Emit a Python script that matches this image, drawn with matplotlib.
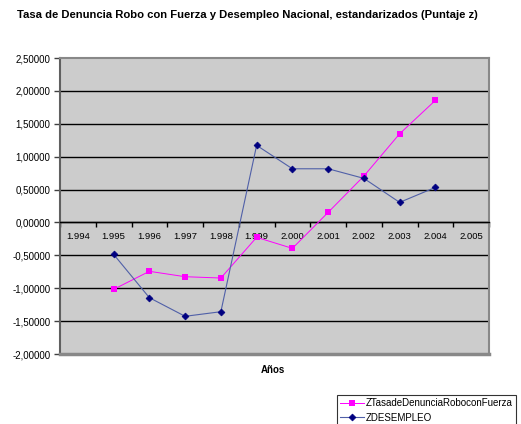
import matplotlib
matplotlib.use("Agg")
import matplotlib.pyplot as plt
from matplotlib.ticker import FixedLocator

plt.rcParams['font.family'] = ['Liberation Sans', 'DejaVu Sans']

years = ['1.994', '1.995', '1.996', '1.997', '1.998', '1.999', '2.000',
         '2.001', '2.002', '2.003', '2.004', '2.005']
data_years = ['1.995', '1.996', '1.997', '1.998', '1.999', '2.000',
              '2.001', '2.002', '2.003', '2.004']
z_robo = [-1.017, -0.743, -0.825, -0.845, -0.226, -0.394, 0.153, 0.705, 1.348, 1.856]
z_desempleo = [-0.485, -1.144, -1.427, -1.357, 1.172, 0.816, 0.816, 0.670, 0.305, 0.533]
y_ticks = [-2.0, -1.5, -1.0, -0.5, 0.0, 0.5, 1.0, 1.5, 2.0, 2.5]

W, H = 521, 424
fig = plt.figure(figsize=(W/100, H/100), dpi=100)
ax = fig.add_axes([60/W, (H-354)/H, (489-60)/W, (354-58)/H])
ax.set_facecolor('#cccccc')

xpos = [years.index(y) for y in data_years]
l1, = ax.plot(xpos, z_robo, color='#ff00ff', lw=0.7, marker='s', markersize=4,
              markeredgewidth=0, label='ZTasadeDenunciaRoboconFuerza', zorder=4)
l2, = ax.plot(xpos, z_desempleo, color='#5060a8', lw=0.8, marker='D', markersize=3.5,
              markerfacecolor='#000080', markeredgecolor='#000080',
              markeredgewidth=0.5, label='ZDESEMPLEO', zorder=4)

ax.set_xlim(-0.5, len(years) - 0.5)
ax.set_ylim(-2.0, 2.5)
ax.set_yticks(y_ticks)
ax.set_yticklabels([('%.5f' % v).replace('.', ',') for v in y_ticks])
for v in y_ticks[1:-1]:
    ax.axhline(v, color='black', lw=1.0, zorder=1)

ax.set_xticks(range(len(years)))
ax.set_xticklabels(years)
ax.xaxis.set_minor_locator(FixedLocator([i - 0.5 for i in range(len(years) + 1)]))
ax.tick_params(axis='x', which='major', length=0, pad=7, labelsize=6.8)
ax.tick_params(axis='x', which='minor', length=3.5, width=1, color='black', direction='out')
ax.tick_params(axis='y', length=4, width=1, color='#404040', pad=3, labelsize=7)

ax.spines['bottom'].set_position(('data', 0))
ax.spines['bottom'].set_color('black')
ax.spines['bottom'].set_linewidth(1.0)
ax.spines['left'].set_color('#606060')
ax.spines['left'].set_linewidth(1.5)
for s in ['top', 'right']:
    ax.spines[s].set_color('#888888')
    ax.spines[s].set_linewidth(1.5)
ax.plot([-0.5, 11.5], [-2.0, -2.0], color='#888888', lw=2.5, clip_on=False, zorder=3)

fig.text(247/W, 1 - 15/H, 'Tasa de Denuncia Robo con Fuerza y Desempleo Nacional, estandarizados (Puntaje z)',
         ha='center', va='center', fontsize=8.1, fontweight='bold')
fig.text(273/W, 1 - 370/H, 'Años', ha='center', va='center', fontsize=7, fontweight='bold')

leg = fig.legend(handles=[l1, l2], loc='upper left', bbox_to_anchor=(337/W, 1 - 395/H),
                 fontsize=7, frameon=True, fancybox=False, edgecolor='black',
                 borderpad=0.3, handlelength=2.5, handletextpad=0.2, labelspacing=0.5,
                 borderaxespad=0)
leg.get_frame().set_linewidth(0.8)

fig.savefig('out.png', dpi=100)
